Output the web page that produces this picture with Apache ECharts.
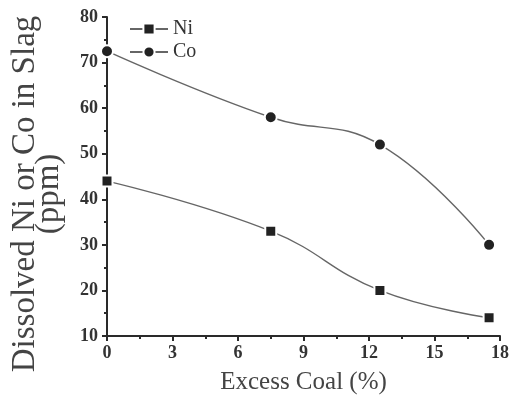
<!DOCTYPE html>
<html>
<head>
<meta charset="utf-8">
<script src="https://cdn.jsdelivr.net/npm/echarts@6/dist/echarts.min.js"></script>
<style>
  html, body { margin: 0; padding: 0; background: #fff; }
  #main { width: 510px; height: 405px; }
</style>
</head>
<body>
<div id="main"></div>
<script>
// excess coal (%) on x
var coal = [0, 7.5, 12.5, 17.5];
// dissolved metal in slag (ppm)
var ni = [44, 33, 20, 14];
var co = [72.5, 58, 52, 30];
var xTicks = [0, 3, 6, 9, 12, 15, 18];
var yTicks = [10, 20, 30, 40, 50, 60, 70, 80];

function pairs(xs, ys) {
    return xs.map(function (x, i) { return [x, ys[i]]; });
}

var chart = echarts.init(document.getElementById('main'));
var serif = 'Liberation Serif';
var axisColor = '#2a2a2a';

var option = {
    backgroundColor: '#fff',
    animation: false,
    grid: { left: 107, top: 17, right: 10, bottom: 69, outerBoundsMode: 'none' },
    legend: {
        orient: 'vertical',
        left: 124,
        top: 14,
        itemWidth: 38,
        itemHeight: 14,
        itemGap: 3,
        textStyle: { fontFamily: serif, fontSize: 20, color: '#333' },
        data: ['Ni', 'Co']
    },
    xAxis: {
        type: 'value',
        min: xTicks[0],
        max: xTicks[xTicks.length - 1],
        interval: 3,
        name: 'Excess Coal (%)',
        nameLocation: 'middle',
        nameGap: 34,
        nameTextStyle: { fontFamily: serif, fontSize: 25, color: '#444' },
        axisLine: { lineStyle: { color: axisColor, width: 2 } },
        axisTick: { length: 5, lineStyle: { color: axisColor, width: 2 } },
        minorTick: { show: true, splitNumber: 2, length: 3, lineStyle: { color: axisColor, width: 2 } },
        splitLine: { show: false },
        axisLabel: { fontFamily: serif, fontSize: 18, fontWeight: 'bold', color: '#333', margin: 8 }
    },
    yAxis: {
        type: 'value',
        min: yTicks[0],
        max: yTicks[yTicks.length - 1],
        interval: 10,
        name: 'Dissolved Ni or Co in Slag\n(ppm)',
        nameLocation: 'middle',
        nameRotate: 90,
        nameGap: 46,
        nameTextStyle: {
            fontFamily: serif, fontSize: 33, color: '#444',
            lineHeight: 24, align: 'center',
            padding: [0, 35, 0, 0]
        },
        axisLine: { show: true, lineStyle: { color: axisColor, width: 2 } },
        axisTick: { show: true, length: 5, lineStyle: { color: axisColor, width: 2 } },
        minorTick: { show: true, splitNumber: 2, length: 3, lineStyle: { color: axisColor, width: 2 } },
        splitLine: { show: false },
        axisLabel: { fontFamily: serif, fontSize: 18, fontWeight: 'bold', color: '#333', margin: 9 }
    },
    series: [
        {
            name: 'Ni',
            type: 'line',
            data: pairs(coal, ni),
            smooth: 0.45,
            clip: false,
            symbol: 'rect',
            symbolSize: 11,
            lineStyle: { color: '#666', width: 1.4 },
            itemStyle: { color: '#222', borderColor: '#fff', borderWidth: 2 }
        },
        {
            name: 'Co',
            type: 'line',
            data: pairs(coal, co),
            smooth: 0.45,
            clip: false,
            symbol: 'circle',
            symbolSize: 12,
            lineStyle: { color: '#666', width: 1.4 },
            itemStyle: { color: '#222', borderColor: '#fff', borderWidth: 2 }
        }
    ]
};

chart.setOption(option);
</script>
</body>
</html>
